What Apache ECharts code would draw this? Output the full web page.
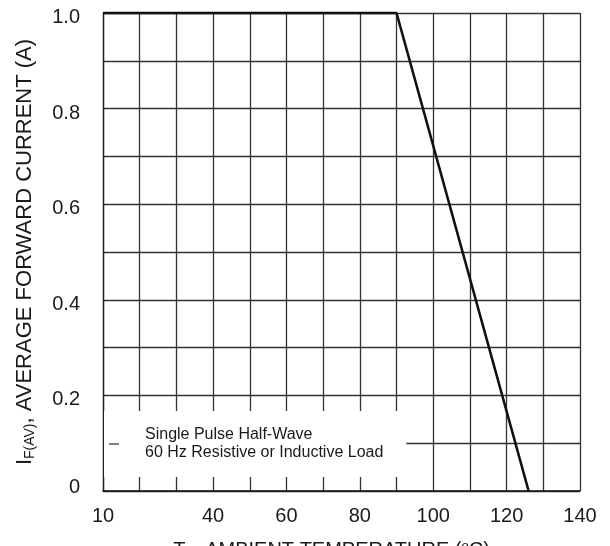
<!DOCTYPE html>
<html>
<head>
<meta charset="utf-8">
<script src="https://cdn.jsdelivr.net/npm/echarts@6/dist/echarts.min.js"></script>
<style>
  html, body { margin: 0; padding: 0; background: #fff; }
  #chart { width: 610px; height: 546px; }
</style>
</head>
<body>
<div id="chart"></div>
<script>
// derating curve: flat 1.0 A up to 90 °C, then linear to zero
const temps = [10, 90, 126]
const current = [1.0, 1.0, 0]
const xLabels = [10, 40, 60, 80, 100, 120, 140]
const yLabels = [0, 0.2, 0.4, 0.6, 0.8, 1.0]
const legendText = 'Single Pulse Half-Wave\n60 Hz Resistive or Inductive Load'

const font = 'Liberation Sans, Arial, sans-serif'
const chart = echarts.init(document.getElementById('chart'))

const option = {
  animation: false,
  grid: { left: 103, right: 30, top: 13, bottom: 55, outerBoundsMode: 'none' },
  legend: {
    data: [legendText],
    left: 104,
    top: 411,
    padding: [15, 23, 15, 5],
    backgroundColor: '#fff',
    icon: 'rect',
    itemWidth: 10,
    itemHeight: 1.5,
    itemStyle: { color: '#555' },
    selectedMode: false,
    textStyle: {
      fontFamily: font,
      fontSize: 16,
      lineHeight: 18,
      color: '#1a1a1a',
      padding: [0, 0, 0, 21]
    }
  },
  xAxis: {
    type: 'value',
    min: 10,
    max: 140,
    interval: 10,
    name: 'T{sub|A}, AMBIENT TEMPERATURE ({sup|o}C)',
    nameLocation: 'middle',
    nameGap: 49,
    nameTextStyle: {
      fontFamily: font,
      fontSize: 20,
      color: '#1a1a1a',
      padding: [0, 20, 0, 0],
      rich: {
        sub: { fontFamily: font, fontSize: 13, padding: [8, 0, 0, 0] },
        sup: { fontFamily: font, fontSize: 13, padding: [0, 0, 8, 0] }
      }
    },
    axisLine: { show: true, lineStyle: { color: '#111', width: 1.5 } },
    axisTick: { show: false },
    splitLine: { show: true, lineStyle: { color: '#333', width: 1.3 } },
    axisLabel: {
      margin: 15,
      fontFamily: font,
      fontSize: 20,
      color: '#1a1a1a',
      formatter: v => (xLabels.includes(v) ? String(v) : '')
    }
  },
  yAxis: {
    type: 'value',
    min: 0,
    max: 1.0,
    interval: 0.1,
    name: 'I{sub|F(AV)}, AVERAGE FORWARD CURRENT (A)',
    nameLocation: 'middle',
    nameRotate: 90,
    nameGap: 66,
    nameTextStyle: {
      fontFamily: font,
      fontSize: 22,
      color: '#1a1a1a',
      rich: {
        sub: { fontFamily: font, fontSize: 14, padding: [10, 0, 0, 0] }
      }
    },
    axisLine: { show: true, lineStyle: { color: '#222', width: 1.3 } },
    axisTick: { show: false },
    splitLine: { show: true, lineStyle: { color: '#333', width: 1.3 } },
    axisLabel: {
      margin: 23,
      fontFamily: font,
      fontSize: 20,
      color: '#1a1a1a',
      formatter: v => {
        const hit = yLabels.find(t => Math.abs(t - v) < 1e-6)
        if (hit === undefined) return ''
        return hit === 0 ? '{z|0}' : '{n|' + hit.toFixed(1) + '}'
      },
      rich: {
        z: { fontFamily: font, fontSize: 20, color: '#1a1a1a', padding: [0, 0, 8, 0] },
        n: { fontFamily: font, fontSize: 20, color: '#1a1a1a', padding: [9, 0, 0, 0] }
      }
    }
  },
  series: [
    {
      name: legendText,
      type: 'line',
      data: temps.map((t, i) => [t, current[i]]),
      showSymbol: false,
      clip: false,
      lineStyle: { color: '#111', width: 2.6 },
      z: 3
    }
  ]
}

chart.setOption(option)
</script>
</body>
</html>
